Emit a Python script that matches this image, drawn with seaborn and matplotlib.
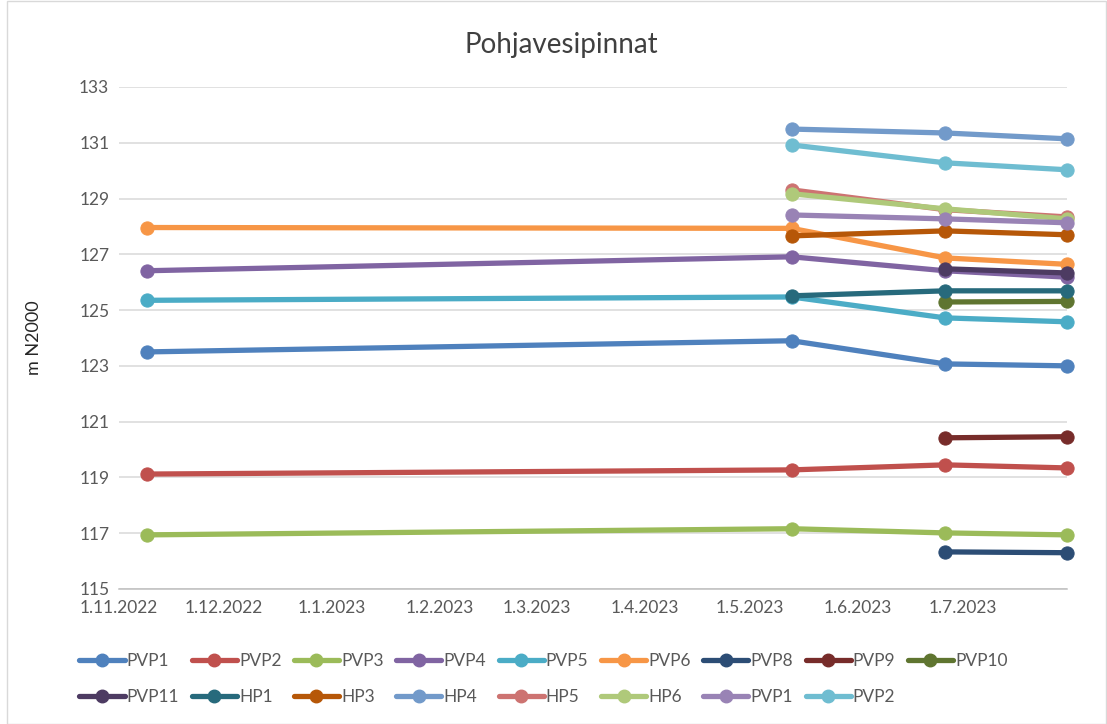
import pandas as pd
import seaborn as sns
import matplotlib.pyplot as plt
import matplotlib.dates as mdates
from matplotlib.lines import Line2D
from matplotlib.patches import Rectangle

# mittauspäivät
dates = pd.to_datetime(["2022-11-09", "2023-05-13", "2023-06-26", "2023-07-31"])

# sarjat: avain, legendan nimi, väri ja arvot per päivä (None = ei mittausta)
keys = ["PVP1", "PVP2", "PVP3", "PVP4", "PVP5", "PVP6", "PVP8", "PVP9", "PVP10",
        "PVP11", "HP1", "HP3", "HP4", "HP5", "HP6", "PVP1_b", "PVP2_b"]
labels = ["PVP1", "PVP2", "PVP3", "PVP4", "PVP5", "PVP6", "PVP8", "PVP9", "PVP10",
          "PVP11", "HP1", "HP3", "HP4", "HP5", "HP6", "PVP1", "PVP2"]
colors = ["#4F81BD", "#C0504D", "#9BBB59", "#8064A2", "#4BACC6", "#F79646",
          "#2C4D75", "#772C2A", "#5F7530", "#4D3B62", "#276A7C", "#B65708",
          "#729ACA", "#CD7371", "#AFC97A", "#9983B5", "#6FBDD1"]

pvp1 = [123.50, 123.90, 123.07, 123.00]
pvp2 = [119.12, 119.27, 119.45, 119.34]
pvp3 = [116.94, 117.16, 117.01, 116.94]
pvp4 = [126.41, 126.91, 126.41, 126.18]
pvp5 = [125.35, 125.47, 124.72, 124.58]
pvp6 = [127.96, 127.93, 126.87, 126.64]
pvp8 = [None, None, 116.33, 116.30]
pvp9 = [None, None, 120.42, 120.46]
pvp10 = [None, None, 125.29, 125.31]
pvp11 = [None, None, 126.48, 126.33]
hp1 = [None, 125.51, 125.69, 125.69]
hp3 = [None, 127.66, 127.84, 127.70]
hp4 = [None, 131.49, 131.35, 131.14]
hp5 = [None, 129.31, 128.60, 128.34]
hp6 = [None, 129.17, 128.63, 128.27]
pvp1_b = [None, 128.41, 128.27, 128.13]
pvp2_b = [None, 130.92, 130.28, 130.03]

values = [pvp1, pvp2, pvp3, pvp4, pvp5, pvp6, pvp8, pvp9, pvp10,
          pvp11, hp1, hp3, hp4, hp5, hp6, pvp1_b, pvp2_b]

rows = []
for k, vals in zip(keys, values):
    for d, v in zip(dates, vals):
        if v is not None:
            rows.append([k, d, v])
df = pd.DataFrame(rows, columns=["piste", "pvm", "taso"])

sns.set_style("white")
plt.rcParams["font.family"] = ["Lato", "DejaVu Sans"]

fig = plt.figure(figsize=(11.07, 7.24), dpi=100)
ax = fig.add_axes([0.1075, 0.1865, 0.8564, 0.6934])

sns.lineplot(data=df, x="pvm", y="taso", hue="piste", hue_order=keys,
             palette=dict(zip(keys, colors)), marker="o", markersize=9.5,
             linewidth=3.8, legend=False, ax=ax, clip_on=False)
for line in ax.lines:
    line.set_markeredgecolor(line.get_color())
    line.set_solid_capstyle("round")

ax.set_ylim(115, 133)
ax.set_yticks(range(115, 134, 2))
ax.set_xlim(pd.Timestamp("2022-11-01"), pd.Timestamp("2023-07-31"))
ax.xaxis.set_major_locator(mdates.MonthLocator())
ax.xaxis.set_major_formatter(
    plt.FuncFormatter(lambda x, p: f"{mdates.num2date(x).day}.{mdates.num2date(x).month}.{mdates.num2date(x).year}"))

ax.grid(axis="y", color="#D9D9D9", linewidth=1.1)
ax.set_axisbelow(True)
for s in ["left", "right", "top"]:
    ax.spines[s].set_visible(False)
ax.spines["bottom"].set_color("#BFBFBF")
ax.spines["bottom"].set_linewidth(1.1)
ax.tick_params(axis="x", direction="in", length=4, color="#BFBFBF", pad=8,
               labelsize=12.5, labelcolor="#595959")
ax.tick_params(axis="y", length=0, pad=7, labelsize=12.5, labelcolor="#595959")
ax.set_xlabel("")
ax.set_ylabel("m N2000", fontsize=13, color="#262626", labelpad=27)
fig.text(0.507, 0.938, "Pohjavesipinnat", fontsize=20, color="#404040",
         ha="center", va="center")

# legenda rivi kerrallaan (matplotlib täyttää sarakkeittain)
handles = [Line2D([], [], color=c, marker="o", markersize=9, linewidth=3.8,
                  markeredgecolor=c) for c in colors]
order = []
for i in range(9):
    order.append(i)
    if i + 9 < len(keys):
        order.append(i + 9)
fig.legend([handles[i] for i in order], [labels[i] for i in order],
           loc="center", bbox_to_anchor=(0.491, 0.062), ncol=9, frameon=False,
           fontsize=12.5, handlelength=2.6, handletextpad=0.12,
           columnspacing=0.72, labelspacing=1.15, labelcolor="#595959")

fig.patches.append(Rectangle((0.006, 0.0), 0.993, 0.999, transform=fig.transFigure,
                             fill=False, edgecolor="#D9D9D9", linewidth=1))

fig.savefig("out.png", dpi=100)
